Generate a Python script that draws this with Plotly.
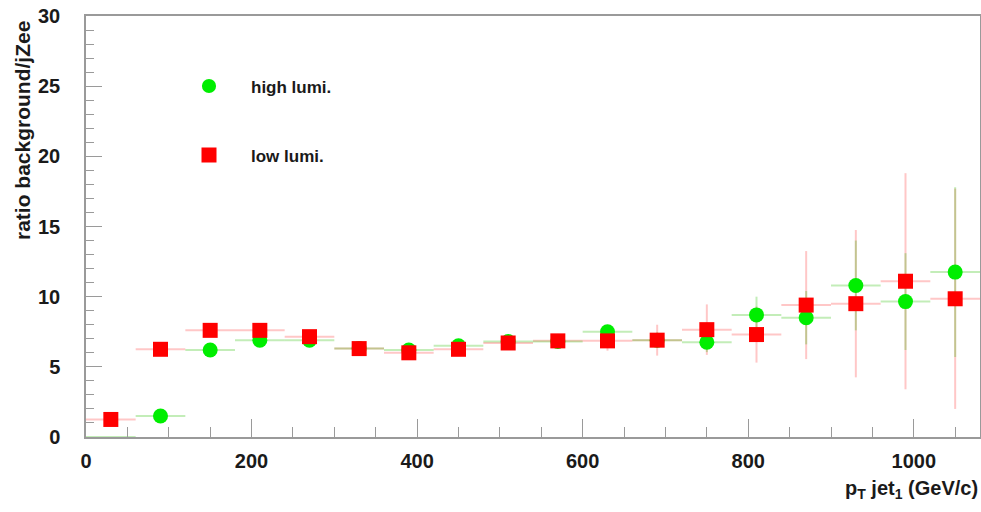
import plotly.graph_objects as go

# ---- data ----
pt_bins = [30, 90, 150, 210, 270, 330, 390, 450, 510, 570, 630, 690, 750, 810, 870, 930, 990, 1050]
bin_half_width = [30] * 18

high_lumi = [0.0, 1.5, 6.2, 6.9, 6.9, 6.3, 6.2, 6.5, 6.8, 6.8, 7.5, 6.9, 6.75, 8.7, 8.5, 10.8, 9.65, 11.75]
high_lumi_err = [0.0, 0.15, 0.2, 0.25, 0.25, 0.25, 0.3, 0.3, 0.35, 0.4, 0.45, 0.5, 0.7, 1.3, 1.9, 3.2, 3.45, 6.05]

low_lumi = [1.25, 6.25, 7.6, 7.6, 7.15, 6.3, 6.0, 6.25, 6.7, 6.85, 6.85, 6.9, 7.65, 7.3, 9.4, 9.5, 11.1, 9.85]
low_lumi_err = [0.2, 0.3, 0.35, 0.35, 0.35, 0.3, 0.35, 0.4, 0.45, 0.5, 0.7, 1.1, 1.8, 2.0, 3.85, 5.25, 7.7, 7.85]

x_ticks = [0, 200, 400, 600, 800, 1000]
y_ticks = [0, 5, 10, 15, 20, 25, 30]

GREEN = "#00ee00"
RED = "#ff0000"
GREEN_ERR = "rgba(40,190,0,0.28)"
RED_ERR = "rgba(255,0,0,0.22)"
FONT = "Liberation Sans, Arial, sans-serif"
TXT = "#1a1a1a"

fig = go.Figure()

# error bars first (drawn beneath markers)
fig.add_trace(go.Scatter(
    x=pt_bins, y=low_lumi, mode="markers",
    marker=dict(size=1, color="rgba(0,0,0,0)"),
    error_x=dict(type="data", array=bin_half_width, color=RED_ERR, thickness=2, width=0),
    error_y=dict(type="data", array=low_lumi_err, color=RED_ERR, thickness=2, width=0),
    showlegend=False, hoverinfo="skip"))
fig.add_trace(go.Scatter(
    x=pt_bins, y=high_lumi, mode="markers",
    marker=dict(size=1, color="rgba(0,0,0,0)"),
    error_x=dict(type="data", array=bin_half_width, color=GREEN_ERR, thickness=2, width=0),
    error_y=dict(type="data", array=high_lumi_err, color=GREEN_ERR, thickness=2, width=0),
    showlegend=False, hoverinfo="skip"))

# markers
green_sizes = [0 if v == 0 else 15 for v in high_lumi]
fig.add_trace(go.Scatter(
    x=pt_bins, y=high_lumi, mode="markers", name="high lumi.",
    marker=dict(symbol="circle", size=green_sizes, color=GREEN, opacity=1, line=dict(width=0)),
    legend="legend"))
fig.add_trace(go.Scatter(
    x=pt_bins, y=low_lumi, mode="markers", name="low lumi.",
    marker=dict(symbol="square", size=15, color=RED, opacity=1, line=dict(width=0)),
    legend="legend2"))

axis_common = dict(
    showgrid=False, zeroline=False, showline=True, linecolor="#9a9a9a", linewidth=1.5,
    mirror=True, ticks="inside", tickcolor="#9a9a9a", tickwidth=1, automargin=False,
    tickfont=dict(family=FONT, size=20, color=TXT, weight="bold"),
)

legend_font = dict(family=FONT, size=17, color=TXT, weight="bold")

fig.update_layout(
    width=981, height=512,
    margin=dict(l=86, r=1, t=16, b=75),
    paper_bgcolor="white", plot_bgcolor="white",
    font=dict(family=FONT, color=TXT),
    xaxis=dict(range=[0, 1080], tickvals=x_ticks, ticklen=18,
               ticklabelstandoff=5,
               minor=dict(dtick=50, ticks="inside", ticklen=10, tickcolor="#9a9a9a"),
               **axis_common),
    yaxis=dict(range=[0, 30], tickvals=y_ticks, ticklen=16,
               ticklabelstandoff=20,
               minor=dict(dtick=1, ticks="inside", ticklen=8, tickcolor="#9a9a9a"),
               **axis_common),
    legend=dict(x=(167 - 86) / 894, y=(437.5 - 86.5) / 421.5, xanchor="left", yanchor="middle",
                itemwidth=74, bgcolor="rgba(0,0,0,0)", font=legend_font),
    legend2=dict(x=(167 - 86) / 894, y=(437.5 - 155.5) / 421.5, xanchor="left", yanchor="middle",
                 itemwidth=74, bgcolor="rgba(0,0,0,0)", font=legend_font),
)

fig.add_annotation(
    text="ratio background/jZee", textangle=-90,
    xref="paper", yref="paper", x=-77 / 894, y=1.0 - 3 / 421.5, xanchor="left", yanchor="top",
    showarrow=False, font=dict(family=FONT, size=21, color=TXT, weight="bold"))
fig.add_annotation(
    text="p<sub>T</sub> jet<sub>1</sub> (GeV/c)",
    xref="paper", yref="paper", x=1.0, y=-(476 - 437.5) / 421.5, xanchor="right", yanchor="top",
    showarrow=False, font=dict(family=FONT, size=20, color=TXT, weight="bold"))

fig.write_html("out.html", config={"displayModeBar": False},
               post_script="document.body.style.margin='0';")
